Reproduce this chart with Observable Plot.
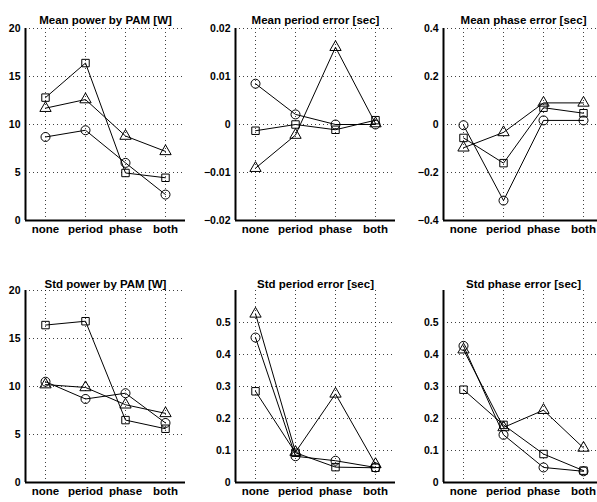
<!DOCTYPE html>
<html>
<head>
<meta charset="utf-8">
<script src="https://cdn.jsdelivr.net/npm/d3@7"></script>
<script src="https://cdn.jsdelivr.net/npm/@observablehq/plot@0.6"></script>
<style>
  html, body { margin: 0; padding: 0; background: white; }
  #wrap { position: relative; width: 597px; height: 502px; overflow: hidden; background: white; }
  #wrap svg { position: absolute; overflow: visible; }
</style>
</head>
<body>
<div id="wrap"></div>
<script>
const categories = ["none", "period", "phase", "both"];

const titles = [
  "Mean power by PAM [W]", "Mean period error [sec]", "Mean phase error [sec]",
  "Std power by PAM [W]", "Std period error [sec]", "Std phase error [sec]"
];

// series: circle, square, triangle markers
const meanPowerCircle   = [8.7, 9.4, 6.0, 2.7];
const meanPowerSquare   = [12.8, 16.4, 4.95, 4.45];
const meanPowerTriangle = [11.7, 12.6, 8.8, 7.2];

const meanPeriodCircle   = [0.0085, 0.0021, 0.0, 0.0];
const meanPeriodSquare   = [-0.0013, 0.0, -0.0011, 0.0009];
const meanPeriodTriangle = [-0.0091, -0.0022, 0.0161, 0.0002];

const meanPhaseCircle   = [-0.003, -0.317, 0.017, 0.017];
const meanPhaseSquare   = [-0.056, -0.161, 0.07, 0.047];
const meanPhaseTriangle = [-0.097, -0.033, 0.09, 0.09];

const stdPowerCircle   = [10.5, 8.7, 9.3, 6.2];
const stdPowerSquare   = [16.4, 16.8, 6.5, 5.6];
const stdPowerTriangle = [10.2, 9.9, 8.1, 7.2];

const stdPeriodCircle   = [0.453, 0.082, 0.068, 0.047];
const stdPeriodSquare   = [0.285, 0.093, 0.048, 0.046];
const stdPeriodTriangle = [0.527, 0.095, 0.277, 0.057];

const stdPhaseCircle   = [0.427, 0.149, 0.047, 0.035];
const stdPhaseSquare   = [0.29, 0.18, 0.089, 0.037];
const stdPhaseTriangle = [0.415, 0.172, 0.226, 0.108];

const powerTicks = [0, 5, 10, 15, 20];
const meanPeriodTicks = [-0.02, -0.01, 0, 0.01, 0.02];
const meanPhaseTicks = [-0.4, -0.2, 0, 0.2, 0.4];
const stdErrTicks = [0, 0.1, 0.2, 0.3, 0.4, 0.5];

const fmt = d => d === 0 ? "0" : String(d).replace("-", "\u2212");

function panel(cfg) {
  const rows = (vals, s) => vals.map((v, i) => ({x: i + 1, y: v, s}));
  const c = rows(cfg.circle, "c"), sq = rows(cfg.square, "s"), t = rows(cfg.triangle, "t");
  const all = [...c, ...sq, ...t];
  const grid = {stroke: "black", strokeOpacity: 0.75, strokeDasharray: "1,3", strokeWidth: 1};
  const svg = Plot.plot({
    width: cfg.marginLeft + 160 + 4,
    height: 28 + 192 + cfg.marginBottom,
    marginTop: 28, marginBottom: cfg.marginBottom, marginLeft: cfg.marginLeft, marginRight: 4,
    style: {fontFamily: "'Liberation Sans', Arial, sans-serif", fontWeight: "bold", fontSize: "10.5px", color: "black", background: "transparent"},
    x: {type: "linear", domain: [0.5, 4.5]},
    y: {domain: cfg.yDomain},
    marks: [
      Plot.gridX([1, 2, 3, 4], grid),
      Plot.gridY(cfg.yTicks, grid),
      Plot.axisX([1, 2, 3, 4], {tickSize: 0, tickPadding: 4, fontSize: 11.5, tickFormat: i => categories[i - 1], label: null}),
      Plot.axisY(cfg.yTicks, {tickSize: 0, tickPadding: 5, fontSize: 10.5, tickFormat: fmt, label: null}),
      Plot.line(all, {x: "x", y: "y", z: "s", stroke: "black", strokeWidth: 1}),
      Plot.dot(c, {x: "x", y: "y", symbol: "circle", r: 4.5, stroke: "black", fill: "none", strokeWidth: 1}),
      Plot.dot(sq, {x: "x", y: "y", symbol: "square", r: 4.2, stroke: "black", fill: "none", strokeWidth: 1}),
      Plot.dot(t, {x: "x", y: "y", symbol: "triangle", r: 4.2, stroke: "black", fill: "none", strokeWidth: 1}),
      Plot.ruleX([0.5], {stroke: "black", strokeWidth: 2}),
      Plot.ruleY([cfg.yDomain[0]], {stroke: "black", strokeWidth: 2}),
      Plot.text([cfg.title], {frameAnchor: "top", dy: cfg.titleDy, fontSize: 11.5, fontWeight: "bold", text: d => d})
    ]
  });
  svg.style.left = cfg.left + "px";
  svg.style.top = cfg.top + "px";
  document.getElementById("wrap").appendChild(svg);
}

const lefts = [0, 195, 400];
const mls = [25, 40, 43];
const tops = [0, 262];

panel({title: titles[0], circle: meanPowerCircle, square: meanPowerSquare, triangle: meanPowerTriangle,
  yDomain: [0, 20], yTicks: powerTicks, left: lefts[0], marginLeft: mls[0], top: tops[0], marginBottom: 25, titleDy: -13});
panel({title: titles[1], circle: meanPeriodCircle, square: meanPeriodSquare, triangle: meanPeriodTriangle,
  yDomain: [-0.02, 0.02], yTicks: meanPeriodTicks, left: lefts[1], marginLeft: mls[1], top: tops[0], marginBottom: 25, titleDy: -13});
panel({title: titles[2], circle: meanPhaseCircle, square: meanPhaseSquare, triangle: meanPhaseTriangle,
  yDomain: [-0.4, 0.4], yTicks: meanPhaseTicks, left: lefts[2], marginLeft: mls[2], top: tops[0], marginBottom: 25, titleDy: -13});
panel({title: titles[3], circle: stdPowerCircle, square: stdPowerSquare, triangle: stdPowerTriangle,
  yDomain: [0, 20], yTicks: powerTicks, left: lefts[0], marginLeft: mls[0], top: tops[1], marginBottom: 20, titleDy: -11});
panel({title: titles[4], circle: stdPeriodCircle, square: stdPeriodSquare, triangle: stdPeriodTriangle,
  yDomain: [0, 0.6], yTicks: stdErrTicks, left: lefts[1], marginLeft: mls[1], top: tops[1], marginBottom: 20, titleDy: -11});
panel({title: titles[5], circle: stdPhaseCircle, square: stdPhaseSquare, triangle: stdPhaseTriangle,
  yDomain: [0, 0.6], yTicks: stdErrTicks, left: lefts[2], marginLeft: mls[2], top: tops[1], marginBottom: 20, titleDy: -11});
</script>
</body>
</html>
